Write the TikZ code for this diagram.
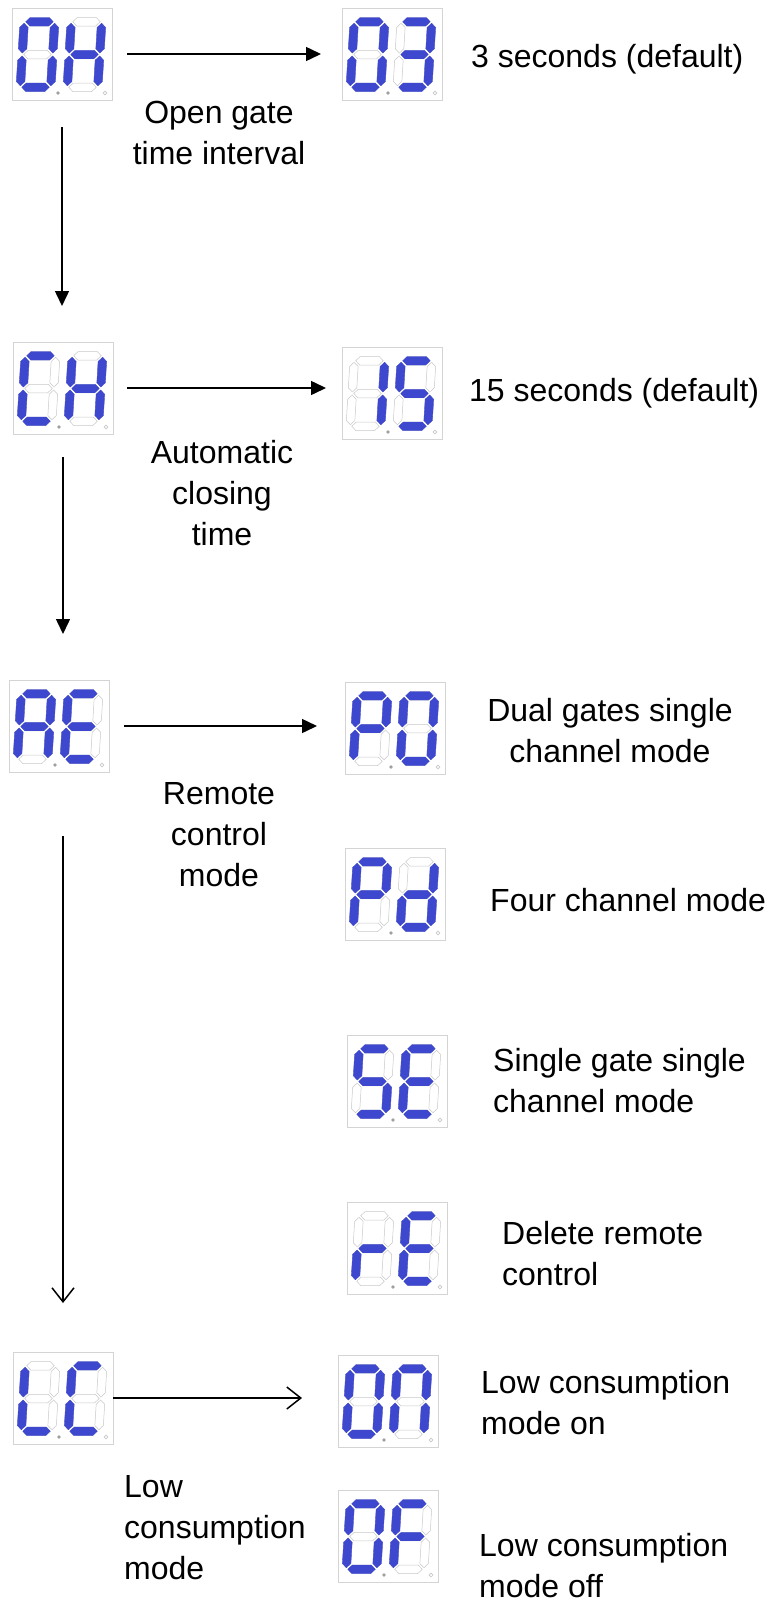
\documentclass[tikz,border=0pt]{standalone}
\usepackage{fontspec}
\setmainfont{Liberation Sans}
\usetikzlibrary{arrows.meta}
\definecolor{segblue}{RGB}{62,72,206}
\definecolor{segoffc}{RGB}{200,200,200}
\definecolor{boxgray}{RGB}{212,212,212}
\definecolor{dotgray}{RGB}{160,160,160}
\newcommand\segA{(-13.75,-32.75)--(-9.5,-37)--(9.5,-37)--(13.75,-32.75)--(9.5,-28.5)--(-9.5,-28.5)--cycle}
\newcommand\segG{(-13.75,0)--(-9.5,-4.25)--(9.5,-4.25)--(13.75,0)--(9.5,4.25)--(-9.5,4.25)--cycle}
\newcommand\segD{(-13.75,32.75)--(-9.5,28.5)--(9.5,28.5)--(13.75,32.75)--(9.5,37)--(-9.5,37)--cycle}
\newcommand\segF{(-15.25,-31.25)--(-11,-27)--(-11,-5.75)--(-15.25,-1.5)--(-19.5,-5.75)--(-19.5,-27)--cycle}
\newcommand\segB{(15.25,-31.25)--(19.5,-27)--(19.5,-5.75)--(15.25,-1.5)--(11,-5.75)--(11,-27)--cycle}
\newcommand\segE{(-15.25,1.5)--(-11,5.75)--(-11,27)--(-15.25,31.25)--(-19.5,27)--(-19.5,5.75)--cycle}
\newcommand\segC{(15.25,1.5)--(19.5,5.75)--(19.5,27)--(15.25,31.25)--(11,27)--(11,5.75)--cycle}
\newcommand\drawsegoff[1]{\filldraw[segoffstyle] #1;}
\newcommand\drawsegon[1]{\filldraw[segonstyle] #1;}
\newcommand\drawdigit[3]{%
  \begin{scope}[shift={(#1,#2)},xslant=0.06]
    \foreach \s in {A,B,C,D,E,F,G}{\expandafter\drawsegoff\csname seg\s\endcsname}
    \foreach \s in {#3}{\expandafter\drawsegon\csname seg\s\endcsname}
  \end{scope}}
\newcommand\segdisplay[4]{%
  \node[dispbox] (#1) at #2 {};
  \begin{scope}[shift={(#1.north west)}]
    \drawdigit{25.5}{46.5}{#3}
    \drawdigit{72.5}{46.5}{#4}
    \fill[dotgray] (46,85) circle (1.9);
    \draw[segoffc, line width=0.6pt] (93,85) circle (1.9);
  \end{scope}}
\tikzset{
  dispbox/.style={draw=boxgray, line width=0.8pt, fill=white, anchor=north west,
    minimum width=100pt, minimum height=92pt, inner sep=0pt, outer sep=0pt},
  segoffstyle/.style={draw=segoffc, fill=white, line width=0.5pt},
  segonstyle/.style={draw=segblue, fill=segblue, line width=0.3pt},
  lbl/.style={inner sep=0pt, font=\fontsize{32}{41}\selectfont},
  arr/.style={line width=1.5pt, -{Triangle[length=15pt,width=14pt]}},
  openarr/.style={line width=1.5pt, -{Straight Barb[length=14pt,width=22pt,line width=1.5pt]}},
}
\begin{document}
\begin{tikzpicture}[x=1pt,y=-1pt]
\useasboundingbox (0,0) rectangle (774,1598);
\segdisplay{d1}{(12,8)}{A,B,C,D,E,F}{B,C,E,F,G}
\segdisplay{d2}{(342,8)}{A,B,C,D,E,F}{A,B,C,D,G}
\segdisplay{d3}{(13,342)}{A,D,E,F}{B,C,E,F,G}
\segdisplay{d4}{(342,347)}{B,C}{A,C,D,F,G}
\segdisplay{d5}{(9,680)}{A,B,C,E,F,G}{A,D,E,F,G}
\segdisplay{d6}{(345,682)}{A,B,E,F,G}{A,B,C,D,E,F}
\segdisplay{d7}{(345,848)}{A,B,E,F,G}{B,C,D,E,G}
\segdisplay{d8}{(347,1035)}{A,C,D,F,G}{A,D,E,F,G}
\segdisplay{d9}{(347,1202)}{E,G}{A,D,E,F,G}
\segdisplay{d10}{(13,1352)}{D,E,F}{A,D,E,F}
\segdisplay{d11}{(338,1355)}{A,B,C,D,E,F}{A,B,C,E,F}
\segdisplay{d12}{(338,1490)}{A,B,C,D,E,F}{A,E,F,G}

\draw[arr, shorten <=15pt, shorten >=21pt] (d1.east) -- (d1.east -| d2.west);
\draw[arr, shorten <=27pt, shorten >=36pt] (d1.south) -- (d1.south |- d3.north);
\draw[arr, shorten <=14pt, shorten >=16pt] (d3.east) -- (d3.east -| d4.west);
\draw[arr, shorten <=23pt, shorten >=46pt] (d3.south) -- (d3.south |- d5.north);
\draw[arr, shorten <=15pt, shorten >=28pt] (d5.east) -- (d5.east -| d6.west);
\coordinate (v3s) at ([xshift=4pt]d5.south);
\draw[openarr, shorten <=64pt, shorten >=49pt] (v3s) -- (v3s |- d10.north);
\draw[openarr, shorten >=36pt] (d10.east) -- (d10.east -| d11.west);

\node[lbl, anchor=west] (t1) at (471,59) {3 seconds (default)};
\node[lbl, align=center] (t2) at (219,133) {Open gate\\time interval};
\node[lbl, anchor=west] (t3) at (469,393) {15 seconds (default)};
\node[lbl, align=center] (t4) at (222,493) {Automatic\\closing\\time};
\node[lbl, align=center] (t5) at (610,731) {Dual gates single\\channel mode};
\node[lbl, align=center] (t6) at (219,835) {Remote\\control\\mode};
\node[lbl, anchor=west] (t7) at (490,900) {Four channel mode};
\node[lbl, anchor=west, align=left] (t8) at (493,1081) {Single gate single\\channel mode};
\node[lbl, anchor=west, align=left] (t9) at (502,1254) {Delete remote\\control};
\node[lbl, anchor=west, align=left] (t10) at (481,1403) {Low consumption\\mode on};
\node[lbl, anchor=west, align=left] (t11) at (124,1528) {Low\\consumption\\mode};
\node[lbl, anchor=west, align=left] (t12) at (479,1566) {Low consumption\\mode off};
\end{tikzpicture}
\end{document}
